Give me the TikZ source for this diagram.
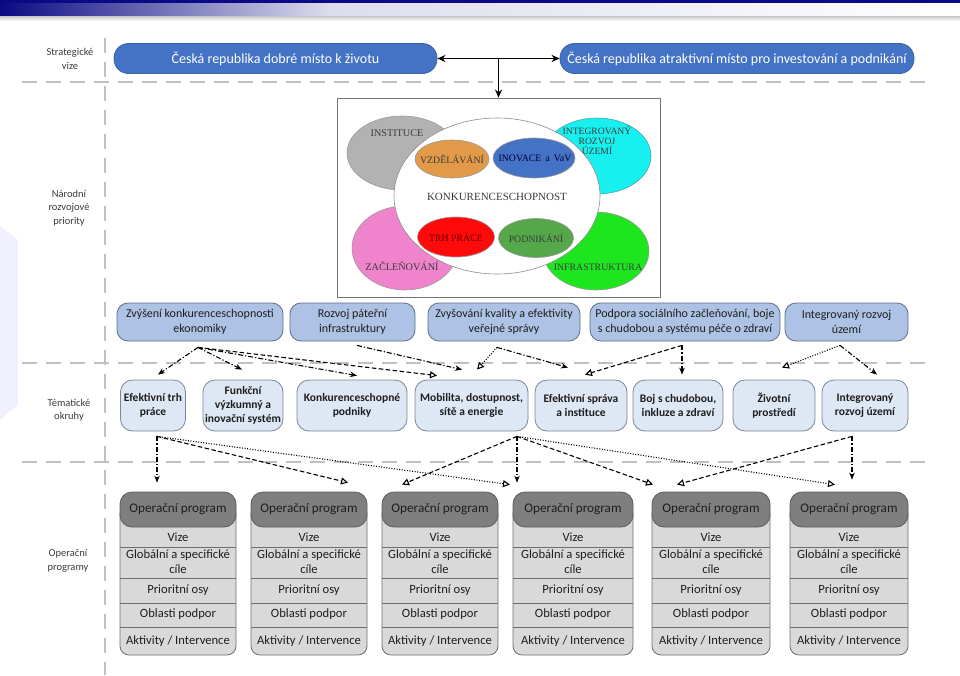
\documentclass[tikz,border=0pt]{standalone}
\usepackage{fontspec}
\setmainfont{Carlito}
\newfontfamily\tnr{Liberation Serif}
\usetikzlibrary{shapes.geometric,arrows.meta,calc}
\definecolor{navy}{HTML}{0A0A84}
\definecolor{svblue}{HTML}{4472C4}
\definecolor{svline}{HTML}{3A62A8}
\definecolor{nrpfill}{HTML}{ADC2E4}
\definecolor{nrpline}{HTML}{5E6E88}
\definecolor{tmfill}{HTML}{DEE7F4}
\definecolor{tmline}{HTML}{7A8699}
\definecolor{ophd}{HTML}{7F7F7F}
\definecolor{ophdline}{HTML}{5C5C5C}
\definecolor{opbd}{HTML}{D9D9D9}
\definecolor{opline}{HTML}{6E6E6E}
\definecolor{sepgrey}{HTML}{C0C0C0}
\definecolor{lbl}{HTML}{3C3C3C}
\definecolor{txt}{HTML}{1E1E1E}
\definecolor{elgrey}{HTML}{B2B2B2}
\definecolor{elcyan}{HTML}{18F0F0}
\definecolor{elpink}{HTML}{F084CC}
\definecolor{elgreen}{HTML}{1EE61E}
\definecolor{elorange}{HTML}{E29A48}
\definecolor{elred}{HTML}{FF0A0A}
\definecolor{eldgreen}{HTML}{55A84A}
\definecolor{imgtxt}{HTML}{3A3A3A}
\tikzset{
  sv/.style={draw=svline, line width=0.8pt, fill=svblue, rounded corners=14.5pt, minimum height=30pt, inner sep=0pt, text=white, font=\fontsize{14}{16}\selectfont},
  nrp/.style={draw=nrpline, line width=0.8pt, fill=nrpfill, rounded corners=11pt, minimum height=38pt, inner sep=0pt, align=center, text=txt, font=\fontsize{12}{14.5}\selectfont},
  tm/.style={draw=tmline, line width=0.8pt, fill=tmfill, rounded corners=12pt, minimum height=51pt, inner sep=0pt, align=center, text=txt, font=\bfseries\fontsize{11.5}{14}\selectfont},
  ophead/.style={draw=ophdline, line width=0.8pt, fill=ophd, rounded corners=12pt, minimum height=35pt, inner sep=0pt, text=txt, font=\fontsize{13.2}{15}\selectfont},
  opbody/.style={draw=opline, line width=0.8pt, fill=opbd, rounded corners=9pt},
  opsep/.style={draw=opline, line width=0.8pt},
  optxt/.style={inner sep=0pt, align=center, text=txt, font=\fontsize{12.6}{15}\selectfont},
  lab/.style={inner sep=0pt, align=center, text=lbl, font=\fontsize{10.5}{13.5}\selectfont},
  sepline/.style={draw=sepgrey, line width=2.6pt, dash pattern=on 15pt off 9pt},
  el/.style={ellipse, inner sep=0pt, line width=0.6pt},
  eltxt/.style={inner sep=0pt, align=center, text=imgtxt, font=\tnr\fontsize{9.8}{10.5}\selectfont},
  con/.style={line width=1.1pt, black},
  dd/.style={con, dash pattern=on 5pt off 2pt on 1.2pt off 2pt},
  dsh/.style={con, dash pattern=on 4.5pt off 2.5pt},
  dtt/.style={con, dash pattern=on 1pt off 1.6pt},
  fh/.style={-{Stealth[length=7pt,width=5.5pt]}},
  oh/.style={-{Triangle[open,length=7pt,width=7pt,fill=white]}},
  sarrow/.style={line width=1.8pt, black},
}
\begin{document}
\begin{tikzpicture}[x=1pt,y=-1pt]
\useasboundingbox (0,0) rectangle (960,675);
\fill[white] (0,0) rectangle (960,675);
% top bar
\shade[left color=navy, right color=navy!14] (0,0) rectangle (330,16);
\shade[left color=navy!14, right color=white] (330,0) rectangle (960,16);
\fill[navy] (0,0) rectangle (960,3);
\shade[top color=black!22, bottom color=white] (0,16) rectangle (960,21);
% left faint shape
\fill[blue!6!white] (0,226) -- (18,240) -- (18,405) -- (0,420) -- cycle;
% separators
\draw[sepline] (105,38) -- (105,675);
\draw[sepline] (22,82) -- (930,82);
\draw[sepline] (22,363) -- (930,363);
\draw[sepline] (22,462) -- (930,462);
% left labels
\node[lab] (l1) at (70,59) {Strategické\\vize};
\node[lab] (l2) at (69,208) {Národní\\rozvojové\\priority};
\node[lab] (l3) at (69,410) {Tématické\\okruhy};
\node[lab] (l4) at (68,561) {Operační\\programy};
% strategic visions
\node[sv, minimum width=323pt] (sv1) at (275.5,58.5) {Česká republika dobré místo k životu};
\node[sv, minimum width=354pt] (sv2) at (737,58.5) {Česká republika atraktivní místo pro investování a podnikání};
% picture frame
\node[draw=black!55, line width=0.8pt, fill=white, minimum width=323pt, minimum height=199pt, inner sep=0pt] (img) at (498.5,197.5) {};
\draw[sarrow, {Stealth[length=8pt,width=7pt]}-{Stealth[length=8pt,width=7pt]}] (sv1.east) -- (sv2.west);
\draw[sarrow, -{Stealth[length=8pt,width=7pt]}] (sv1.east -| img.north) -- (img.north);
% ellipses
\node[el, draw=black!40, fill=elgrey, minimum width=110pt, minimum height=74pt] (eI) at (402,153) {};
\node[el, draw=teal!70, fill=elcyan, minimum width=108pt, minimum height=76pt] (eU) at (597,156) {};
\node[el, draw=black!40, fill=elpink, minimum width=106pt, minimum height=84pt] (eZ) at (405,248) {};
\node[el, draw=black!40, fill=elgreen, minimum width=106pt, minimum height=78pt] (eF) at (596,251) {};
\node[el, draw=black!45, fill=white, minimum width=206pt, minimum height=156pt] (eK) at (497,196) {};
\node[el, draw=black!40, fill=elorange, minimum width=74pt, minimum height=38pt] (eV) at (452,159) {};
\node[el, draw=black!40, fill=svblue, minimum width=82pt, minimum height=40pt] (eN) at (534,158) {};
\node[el, draw=black!40, fill=elred, minimum width=77pt, minimum height=40pt] (eT) at (456,237) {};
\node[el, draw=black!40, fill=eldgreen, minimum width=75pt, minimum height=39pt] (eP) at (536,238) {};
\node[eltxt, font=\tnr\fontsize{10.2}{11}\selectfont] (xI) at (397,133) {INSTITUCE};
\node[eltxt, font=\tnr\fontsize{9.6}{10}\selectfont] (xU) at (597,140) {INTEGROVANÝ\\ROZVOJ\\ÚZEMÍ};
\node[eltxt, font=\tnr\fontsize{11}{12}\selectfont] (xK) at (497,197) {KONKURENCESCHOPNOST};
\node[eltxt] (xV) at (452,159) {VZDĚLÁVÁNÍ};
\node[eltxt, text=blue!20!black] (xN) at (535,158) {INOVACE\, a\, VaV};
\node[eltxt, text=red!40!black] (xT) at (456,237) {TRH PRÁCE};
\node[eltxt] (xP) at (536,238) {PODNIKÁNÍ};
\node[eltxt, font=\tnr\fontsize{10.2}{11}\selectfont] (xZ) at (402,266) {ZAČLEŇOVÁNÍ};
\node[eltxt] (xF) at (598,267) {INFRASTRUKTURA};
% national priorities
\node[nrp, minimum width=166pt] (n1) at (200,322) {Zvýšení konkurenceschopnosti\\ekonomiky};
\node[nrp, minimum width=125pt] (n2) at (352.5,322) {Rozvoj páteřní\\infrastruktury};
\node[nrp, minimum width=152pt] (n3) at (504,322) {Zvyšování kvality a efektivity\\veřejné správy};
\node[nrp, minimum width=190pt] (n4) at (685,322) {Podpora sociálního začleňování, boje\\s chudobou a systému péče o zdraví};
\node[nrp, minimum width=123pt] (n5) at (846.5,322) {Integrovaný rozvoj\\území};
% thematic areas
\node[tm, minimum width=65pt] (t1) at (153,405.5) {Efektivní trh\\práce};
\node[tm, minimum width=80pt] (t2) at (243,405.5) {Funkční\\výzkumný a\\inovační systém};
\node[tm, minimum width=110pt] (t3) at (352,405.5) {Konkurenceschopné\\podniky};
\node[tm, minimum width=113pt] (t4) at (471.5,405.5) {Mobilita, dostupnost,\\sítě a energie};
\node[tm, minimum width=92pt] (t5) at (581,405.5) {Efektivní správa\\a instituce};
\node[tm, minimum width=90pt] (t6) at (678,405.5) {Boj s chudobou,\\inkluze a zdraví};
\node[tm, minimum width=82pt] (t7) at (774,405.5) {Životní\\prostředí};
\node[tm, minimum width=86pt] (t8) at (865,405.5) {Integrovaný\\rozvoj území};
% operational programmes
\foreach \i/\l/\r in {1/120/236,2/251/367,3/382/498,4/513/633,5/652/770,6/790/908}{
  \pgfmathsetmacro\c{(\l+\r)/2}
  \pgfmathsetmacro\w{\r-\l}
  \draw[opbody] (\l,505) rectangle (\r,655);
  \foreach \yy in {547,578,603,627} \draw[opsep] (\l,\yy) -- (\r,\yy);
  \node[ophead, minimum width=\w pt] (op\i) at (\c,509.5) {Operační program};
  \node[optxt] (va\i) at (\c,537) {Vize};
  \node[optxt] (gl\i) at (\c,562) {Globální a specifické\\cíle};
  \node[optxt] (po\i) at (\c,590) {Prioritní osy};
  \node[optxt] (ob\i) at (\c,614.5) {Oblasti podpor};
  \node[optxt] (ak\i) at (\c,641) {Aktivity / Intervence};
}
% connectors row 2 -> row 3
\coordinate (s1) at ([xshift=-2pt,yshift=-6pt]n1.south);
\coordinate (s2) at ([xshift=4.5pt,yshift=-4pt]n2.south);
\coordinate (s3) at ([xshift=-7pt,yshift=-6pt]n3.south);
\coordinate (s4) at ([xshift=-3pt,yshift=-4pt]n4.south);
\coordinate (s5) at ([xshift=-6.5pt,yshift=-4pt]n5.south);
\draw[dd,fh] (s1) -- ([xshift=5pt,yshift=5pt]t1.north);
\draw[dd,fh] (s1) -- ([xshift=-1pt,yshift=10pt]t2.north);
\draw[dd,fh] (s1) -- ([xshift=5pt,yshift=4pt]t3.north);
\draw[dsh,oh] (s1) -- ([xshift=-34.5pt,yshift=4pt]t4.north);
\draw[dd,fh] (s2) -- ([xshift=-9.5pt,yshift=10pt]t4.north);
\draw[dtt,oh] (s3) -- ([xshift=5.5pt,yshift=10pt]t4.north);
\draw[dd,fh] (s3) -- ([xshift=-13pt,yshift=12pt]t5.north);
\draw[dsh,oh] (s4) -- ([xshift=4pt,yshift=5pt]t5.north);
\draw[dd,fh] (s4) -- ([xshift=4pt,yshift=5pt]t6.north);
\draw[dtt,oh] (s5) -- ([xshift=8pt,yshift=12pt]t7.north);
\draw[dd,fh] (s5) -- ([xshift=12pt,yshift=5pt]t8.north);
% connectors row 3 -> row 4
\coordinate (u1) at ([xshift=4pt,yshift=-5pt]t1.south);
\coordinate (u4) at ([xshift=45.5pt,yshift=-5pt]t4.south);
\coordinate (u8) at ([xshift=-13pt,yshift=-5pt]t8.south);
\draw[dd,fh] (u1) -- ([xshift=-21pt,yshift=9pt]op1.north);
\draw[dsh,oh] (u1) -- ([xshift=39pt,yshift=9pt]op2.north);
\draw[dtt,oh] (u1) -- ([xshift=-63pt,yshift=7pt]op4.north);
\draw[dsh,oh] (u4) -- ([xshift=-38pt,yshift=7pt]op3.north);
\draw[dd,fh] (u4) -- ([xshift=-56pt,yshift=9pt]op4.north);
\draw[dsh,oh] (u4) -- ([xshift=-58pt,yshift=7pt]op5.north);
\draw[dtt,oh] (u4) -- ([xshift=-14pt,yshift=7pt]op6.north);
\draw[dsh,oh] (u8) -- ([xshift=-34pt,yshift=7pt]op5.north);
\draw[dd,fh] (u8) -- ([xshift=3pt,yshift=12pt]op6.north);
\end{tikzpicture}
\end{document}
